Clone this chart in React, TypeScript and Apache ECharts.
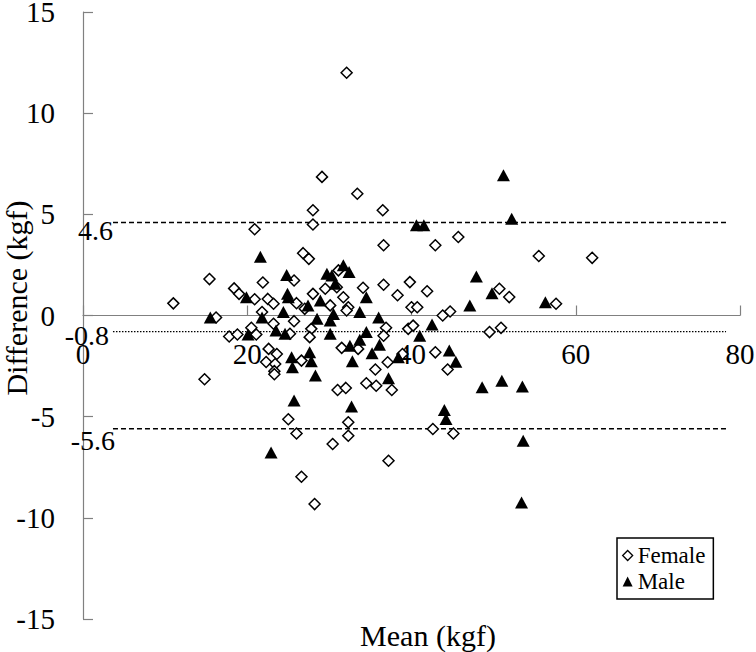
import React, { useEffect, useRef } from "react";
import * as echarts from "echarts";

const FONT = "Liberation Serif";

const femaleMean = [
  11.0, 14.8, 15.4, 16.2, 17.8, 18.4, 18.8, 19.0, 20.5, 20.9, 20.9, 21.1, 21.8, 21.9, 22.5,
  23.2, 23.2, 22.6, 23.6, 22.3, 23.4, 23.3, 23.3, 25.0, 25.7, 25.2, 25.7, 26.0, 26.0, 26.6,
  26.6, 26.8, 27.5, 27.0, 28.0, 27.8, 27.6, 28.0, 28.0, 28.2, 29.1, 29.5, 30.1, 31.1, 31.5,
  31.0, 32.0, 30.4, 32.3, 32.3, 32.1, 31.7, 32.3, 33.4, 33.5, 34.1, 34.5, 35.7, 35.6, 36.5,
  36.6, 36.6, 36.9, 36.6, 37.1, 37.6, 37.2, 38.3, 38.9, 39.8, 39.6, 40.0, 40.7, 40.2, 41.9,
  42.9, 42.9, 42.6, 43.8, 44.7, 44.4, 45.1, 45.7, 49.5, 50.9, 50.7, 51.9, 55.5, 57.6, 62.0,
  30.9, 32.1,
];
const femaleDiff = [
  0.6, -3.15, 1.8, -0.1, -1.04, 1.34, -0.94, 1.07, -0.61, 4.26, 0.8, -0.94, 0.17, 1.63, 0.82,
  0.58, -0.41, -1.65, -1.9, -2.3, -2.4, -2.75, -2.9, -5.13, -0.28, -0.9, 1.73, 0.61, -5.83, -2.23,
  -7.97, 3.08, 2.8, 0.33, 1.07, -0.66, -1.07, 5.2, 4.5, -9.32, 6.85, 1.32, 0.5, 2.23, -1.6,
  -3.68, -3.58, -6.35, -5.28, -5.94, 12.0, 0.9, 0.41, 6.02, -1.65, 1.37, -3.35, -3.47, -2.67, 5.2,
  3.47, 1.52, -0.61, -1.0, -2.31, -3.68, -7.18, 1.0, -1.9, 1.65, -0.66, 0.41, 0.41, -0.5, 1.2,
  3.47, -1.82, -5.61, 0.0, 0.2, -2.67, -5.83, 3.88, -0.82, -0.61, 1.32, 0.91, 2.94, 0.58, 2.85,
  1.4, 0.25,
];

const maleMean = [
  15.5, 19.9, 20.1, 21.6, 21.8, 22.9, 23.5, 24.4, 24.6, 24.8, 25.0, 25.4, 25.5, 25.7, 27.4,
  27.6, 27.8, 28.3, 28.5, 28.9, 29.7, 30.1, 30.1, 30.7, 31.7, 32.4, 32.7, 32.8, 32.5, 33.7,
  33.7, 34.5, 34.5, 35.2, 36.1, 36.0, 37.2, 38.4, 40.6, 41.5, 41.0, 42.5, 44.0, 44.2, 44.6,
  45.4, 47.1, 47.9, 48.6, 49.8, 51.0, 51.2, 52.2, 53.5, 53.6, 53.4, 56.3, 24.9, 30.3, 30.5,
];
const maleDiff = [
  -0.1, 0.9, -0.94, 2.9, -0.1, -6.77, -0.74, 0.17, -0.9, 2.0, 0.9, -2.06, -2.56, -4.2, 0.5,
  -1.82, -2.26, -2.97, -0.16, 0.74, 2.06, -0.25, -0.9, 1.57, 2.48, 2.15, -4.5, -2.26, -1.49, -1.2,
  0.17, 0.9, -0.82, -1.86, -1.44, -0.1, -3.1, -2.06, 4.46, 4.46, -1.0, -0.45, -4.67, -5.12, -1.73,
  -2.28, 0.5, 1.93, -3.55, 1.1, -3.22, 6.93, 4.78, -3.51, -6.19, -9.24, 0.66, 1.07, 1.98, 0.08,
];

const meanDiff = -0.8;
const upperLoA = 4.6;
const lowerLoA = -5.6;
const refLineStart = 3.65;
const refLineEnd = 78.3;
const refLabels = ["4.6", "-0.8", "-5.6"];

const pairs = (xs: number[], ys: number[]) => xs.map((x, i) => [x, ys[i]]);

const GRID_TOP = 12;
const GRID_BOTTOM = 33;
const H = 652;
const Y_MIN = -15;
const Y_MAX = 15;

export default function App() {
  const ref = useRef<HTMLDivElement>(null);
  useEffect(() => {
    const chart = echarts.init(ref.current!, null, { renderer: "svg" });
    const plotH = H - GRID_TOP - GRID_BOTTOM;
    const zeroOffset = (plotH * (0 - Y_MIN)) / (Y_MAX - Y_MIN);
    const refLine = (v: number, type: any, width: number) => ({
      type: "line",
      data: [
        [refLineStart, v],
        [refLineEnd, v],
      ],
      symbol: "none",
      silent: true,
      lineStyle: { color: "#000", width, type },
      z: 1,
    });
    chart.setOption({
      animation: false,
      backgroundColor: "#fff",
      grid: {
        left: 83,
        right: 16,
        top: GRID_TOP,
        bottom: GRID_BOTTOM,
        containLabel: false,
        outerBoundsMode: "none",
      },
      xAxis: {
        type: "value",
        min: 0,
        max: 80,
        interval: 20,
        position: "bottom",
        offset: -zeroOffset,
        axisLine: { onZero: false, lineStyle: { color: "#808080", width: 1.2 } },
        axisTick: { show: true, inside: true, length: 10, lineStyle: { color: "#808080", width: 1.2 } },
        axisLabel: { color: "#000", fontSize: 29, fontFamily: FONT, margin: 24 },
        splitLine: { show: false },
      },
      yAxis: {
        type: "value",
        min: Y_MIN,
        max: Y_MAX,
        interval: 5,
        axisLine: { show: true, onZero: false, lineStyle: { color: "#808080", width: 1.2 } },
        axisTick: { show: true, inside: true, length: 10, lineStyle: { color: "#808080", width: 1.2 } },
        axisLabel: { color: "#000", fontSize: 29, fontFamily: FONT, margin: 28 },
        splitLine: { show: false },
      },
      legend: {
        orient: "vertical",
        left: 617,
        top: 538,
        itemWidth: 10,
        itemHeight: 10,
        itemGap: 3,
        padding: [6, 8, 6, 5],
        borderColor: "#000",
        borderWidth: 1.5,
        textStyle: { color: "#000", fontSize: 23, fontFamily: FONT },
        data: [
          { name: "Female", icon: "diamond", itemStyle: { color: "#fff", borderColor: "#000", borderWidth: 1.3 } },
          { name: "Male", icon: "triangle", itemStyle: { color: "#000" } },
        ],
      },
      series: [
        refLine(upperLoA, [5, 3], 1.5),
        refLine(lowerLoA, [5, 3], 1.5),
        refLine(meanDiff, [1.5, 1.5], 1.3),
        {
          name: "Female",
          type: "scatter",
          data: pairs(femaleMean, femaleDiff),
          symbol: "diamond",
          symbolSize: [11, 11],
          itemStyle: { color: "#fff", borderColor: "#000", borderWidth: 1.5, opacity: 1 },
          z: 3,
        },
        {
          name: "Male",
          type: "scatter",
          data: pairs(maleMean, maleDiff),
          symbol: "triangle",
          symbolSize: [13, 12],
          itemStyle: { color: "#000", opacity: 1 },
          z: 4,
        },
      ],
    });

    const px = (x: number, y: number) => chart.convertToPixel({ gridIndex: 0 }, [x, y]) as number[];
    const u = px(refLineStart, upperLoA);
    const m = px(refLineStart, meanDiff);
    const l = px(refLineStart, lowerLoA);
    const txt = (text: string, x: number, y: number) => ({
      type: "text",
      x,
      y,
      silent: true,
      style: { text, fill: "#000", fontSize: 28, fontFamily: FONT, align: "right", verticalAlign: "middle" },
      z: 10,
    });
    chart.setOption({
      graphic: [
        txt(refLabels[0], u[0], u[1] + 8),
        txt(refLabels[1], m[0] - 4, m[1] + 4),
        txt(refLabels[2], l[0] + 2, l[1] + 12),
        {
          type: "text",
          x: 428,
          y: 635,
          silent: true,
          style: { text: "Mean (kgf)", fill: "#000", fontSize: 30, fontFamily: FONT, align: "center", verticalAlign: "middle" },
        },
        {
          type: "text",
          x: 16,
          y: 298,
          rotation: Math.PI / 2,
          silent: true,
          style: { text: "Difference (kgf)", fill: "#000", fontSize: 30, fontFamily: FONT, align: "center", verticalAlign: "middle" },
        },
      ],
    });
    return () => chart.dispose();
  }, []);
  return <div ref={ref} style={{ position: "fixed", left: 0, top: 0, width: 756, height: 652 }} />;
}
